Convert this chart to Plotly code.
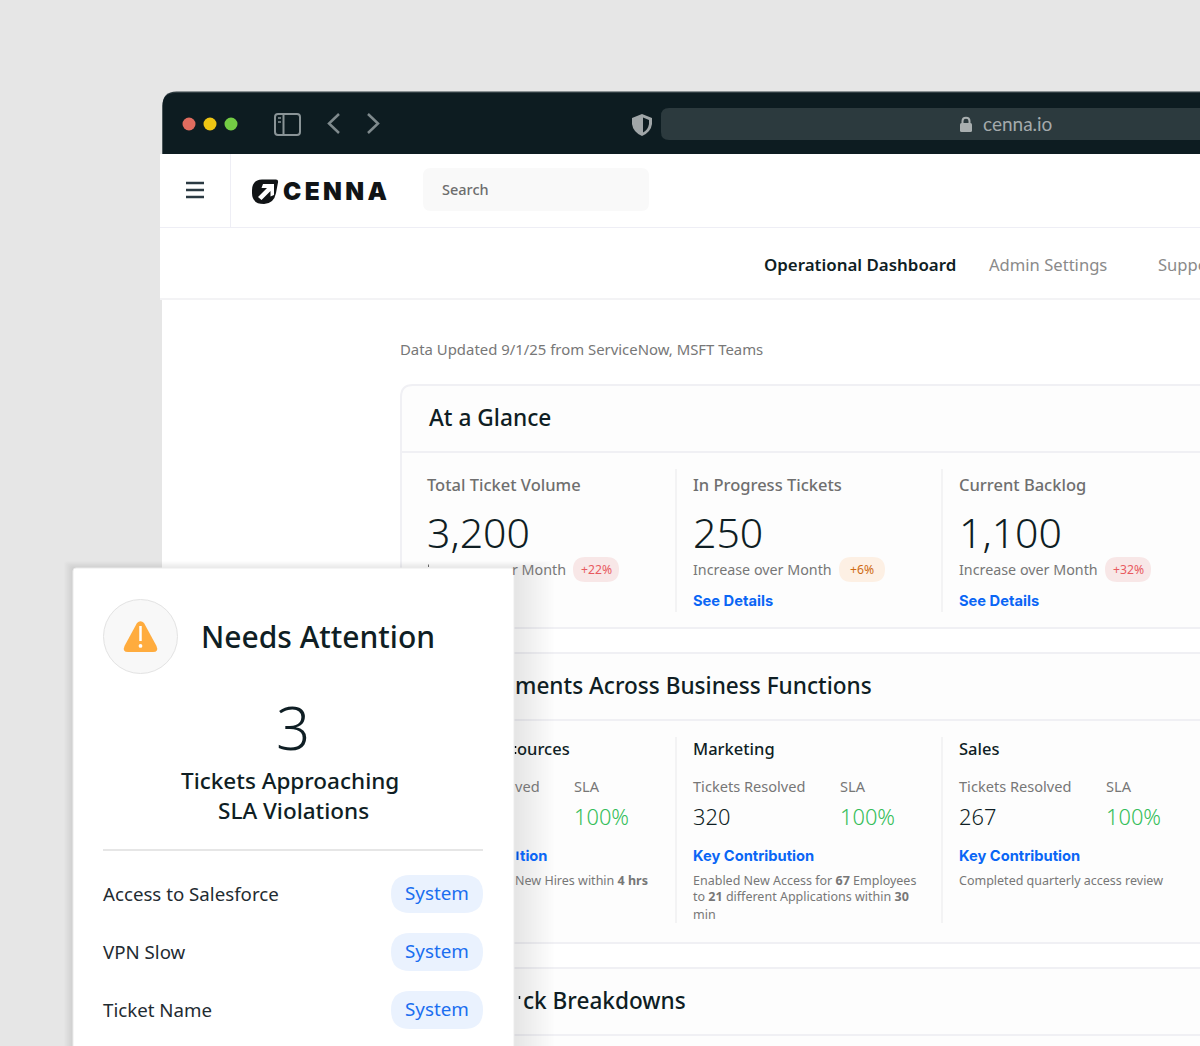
import plotly.graph_objects as go

# text of the dashboard
glance_titles = ["Total Ticket Volume", "In Progress Tickets", "Current Backlog"]
glance_values = ["3,200", "250", "1,100"]
glance_notes = ["r Month", "Increase over Month", "Increase over Month"]
glance_badges = ["+22%", "+6%", "+32%"]
dept_names = ["ources", "Marketing", "Sales"]
dept_resolved_labels = ["ved", "Tickets Resolved", "Tickets Resolved"]
dept_resolved = ["", "320", "267"]
dept_sla = ["100%", "100%", "100%"]
dept_key_labels = ["tion", "Key Contribution", "Key Contribution"]
dept_notes = [
    ["New Hires within <b>4 hrs</b>"],
    ["Enabled New Access for <b>67</b> Employees", "to <b>21</b> different Applications within <b>30</b>", "min"],
    ["Completed quarterly access review"],
]
attention_tickets = ["Access to Salesforce", "VPN Slow", "Ticket Name"]
attention_tags = ["System", "System", "System"]

DARK = "#0d1c21"
INK = "#0f1e24"
GREY = "#777777"
BLUE = "#0a66f5"
LINE = "#f0f0f4"
FONT = "Noto Sans"

shapes = []
annotations = []


def rounded(x0, y0, x1, y1, r):
    return (
        f"M{x0 + r},{y0} L{x1 - r},{y0} Q{x1},{y0} {x1},{y0 + r} L{x1},{y1 - r} Q{x1},{y1} {x1 - r},{y1} "
        f"L{x0 + r},{y1} Q{x0},{y1} {x0},{y1 - r} L{x0},{y0 + r} Q{x0},{y0} {x0 + r},{y0} Z"
    )


def box(x0, y0, x1, y1, fill, r=0, line=None, width=0, opacity=None):
    s = dict(type="path", path=rounded(x0, y0, x1, y1, r), fillcolor=fill, line=dict(width=width, color=line or fill))
    if opacity is not None:
        s["opacity"] = opacity
    shapes.append(s)


def rule(x0, y0, x1, y1, color, width=2):
    shapes.append(dict(type="line", x0=x0, y0=y0, x1=x1, y1=y1, line=dict(color=color, width=width)))


def draw(path, fill="rgba(0,0,0,0)", color=None, width=0):
    shapes.append(dict(type="path", path=path, fillcolor=fill, line=dict(color=color or fill, width=width)))


def text(x, y, s, size, color=INK, weight=400, anchor="left", family=FONT):
    # glyph boxes sit low against the screenshot
    annotations.append(dict(
        x=x, y=y - 2, text=s, showarrow=False, xanchor=anchor, yanchor="middle", align=anchor,
        borderpad=0, borderwidth=0,
        font=dict(size=size, color=color, weight=weight, family=family),
    ))


# shadow of the browser window on the backdrop
for d in range(1, 21):
    box(162 - d * 1.5, 91 - d * 0.5, 1260, 1100, "#000000", r=14, opacity=0.0018)

# browser window
box(162.5, 91.5, 1260, 200, "#2f3c41", r=14)
box(162.5, 93, 1260, 200, DARK, r=13)
box(162, 154, 1260, 1100, "#ffffff")
for x, c in zip([189, 210, 231], ["#e06c5f", "#eec513", "#73cc44"]):
    shapes.append(dict(type="circle", x0=x - 6.5, x1=x + 6.5, y0=117.5, y1=130.5, fillcolor=c, line=dict(width=0)))
box(275, 114, 300, 135, "rgba(0,0,0,0)", r=3, line="#8a9497", width=2)
rule(283.5, 114, 283.5, 135, "#8a9497", 2)
rule(278, 118, 281, 118, "#8a9497", 1.5)
rule(278, 122, 281, 122, "#8a9497", 1.5)
draw("M339,114 L329,123.5 L339,133", color="#7f8a8d", width=2.5)
draw("M368,114 L378,123.5 L368,133", color="#7f8a8d", width=2.5)
draw("M632,118 L642,114 L652,118 L652,124 Q651,132 642,136 Q633,132 632,124 Z", fill="#a0a6a8")
draw("M643,117.5 L649,120 L649,124 Q648,130 643,132.5 Z", fill=DARK)
box(661, 108, 1260, 140, "#2c3a3e", r=8)
box(960, 123, 972, 132, "#a9afb0", r=1.5)
draw("M962.5,123 L962.5,121 C962.5,116.5 969.5,116.5 969.5,121 L969.5,123", color="#a9afb0", width=2)
text(983, 125.5, "cenna.io", 19, "#a4aaac", family="Lato")

# app header and tabs
box(160, 154, 1260, 299, "#ffffff")
rule(160, 227.5, 1200, 227.5, "#eeeef5", 1)
rule(230.5, 154, 230.5, 227, "#eeeef5", 1)
rule(160, 299, 1200, 299, "#f3f3f5", 2)
for y in [183, 190, 197]:
    rule(186, y, 204, y, "#2b3a42", 2.5)
draw("M262,179.5 L276,179.5 Q278.5,179.5 278,182.5 L276,193 Q274,203.5 264,204 Q252,204 252,193 L252,190 Q252,180 262,179.5 Z", fill="#111416")
draw("M258,197 L267,188 L261.5,188 L263,184 L274,184 L274,195 L270.5,196.5 L270.5,191 L261.5,200 Z", fill="#ffffff")
text(283, 193, "C\u200a\u200aE\u200a\u200aN\u200a\u200aN\u200a\u200aA", 24.5, "#111416", 900, family="Inter")
box(423, 168, 649, 211, "#f9f9f9", r=8)
text(442, 191, "Search", 14.5, "#6d6d6d", 500)
text(764, 266, "Operational Dashboard", 16.9, INK, 600)
text(989, 266, "Admin Settings", 16.6, "#8a8a8a")
text(1158, 266, "Support", 16.6, "#8a8a8a")
text(399.5, 351, "Data Updated 9/1/25 from ServiceNow, MSFT Teams", 14.9, GREY)

# section cards
for top, bottom, mid in [(385, 628, 452), (653, 943, 720), (968, 1100, 1035)]:
    box(401, top, 1260, bottom, "#fdfdfd", r=12, line=LINE, width=2)
    rule(402, mid, 1200, mid, LINE, 2)
text(429, 419, "At a Glance", 22.7, INK, 500)
text(515, 687, "ments Across Business Functions", 22.6, INK, 500)
text(522.5, 1002, "ck Breakdowns", 22.6, INK, 500)
rule(519.5, 996, 519.5, 999, INK, 1.5)

col_x = [427, 693, 959]
for x in [676, 942]:
    rule(x, 469, x, 612, "#efeff1", 1.5)
    rule(x, 737, x, 923, "#efeff1", 1.5)

for i, x in enumerate(col_x):
    text(x, 486, glance_titles[i], 16.5, "#6f6f6f", 500)
    text(x, 534, glance_values[i], 41, INK, 300)
    bad = i != 1
    box(x + 146, 557, x + 192, 582, "#f8e7e7" if bad else "#fdf0e4", r=12.5)
    text(x + 169, 571, glance_badges[i], 12.2, "#e85a5f" if bad else "#cf6a12", anchor="center")
    if i == 0:
        text(566, 571, glance_notes[i], 14.3, GREY, anchor="right")
    else:
        text(x, 571, glance_notes[i], 14.3, GREY)
        text(x, 603, "See Details", 14.7, BLUE, 650, family="Inter")
rule(428.5, 564.5, 428.5, 567, GREY, 1)

dept_x = [515, 693, 959]
sla_x = [574, 840, 1106]
for i, x in enumerate(dept_x):
    text(x + 2 if i == 0 else x, 750, dept_names[i], 16.5, INK, 500)
    text(x, 788, dept_resolved_labels[i], 14.6, GREY)
    text(sla_x[i], 788, "SLA", 14.6, GREY)
    if dept_resolved[i]:
        text(x, 818, dept_resolved[i], 21.8, INK, 300)
    text(sla_x[i], 818, dept_sla[i], 21.8, "#35bd5a", 300)
    text(x + 4.5 if i == 0 else x, 858, dept_key_labels[i], 14.7, BLUE, 650, family="Inter")
    for line, y in zip(dept_notes[i], [882, 898, 916]):
        text(x, y, line, 12.5, GREY)
rule(517.5, 851.5, 517.5, 860, BLUE, 2)
rule(515.5, 746, 515.5, 748, INK, 1.5)
rule(515.5, 752, 515.5, 754, INK, 1.5)

# soft shadow behind the floating card
for d in range(1, 25):
    box(73 - d * 0.4, 568 - d * 0.3, 514 + d * 1.7, 1100, "#000000", r=3, opacity=0.0036)

# needs attention card
box(73, 568, 514, 1100, "#ffffff", r=3, line="#ececec", width=1)
shapes.append(dict(type="circle", x0=103.5, x1=177.5, y0=599.5, y1=673.5, fillcolor="#f8f8f8", line=dict(color="#e3e3e3", width=1)))
draw("M137,623 Q140.5,619.5 144,623 L156.5,646 Q159,652 153,652 L128,652 Q122,652 124.5,646 Z", fill="#ffac3e")
rule(140.5, 626, 140.5, 641, "#ffffff", 2.5)
shapes.append(dict(type="circle", x0=138.6, x1=142.4, y0=644, y1=647.8, fillcolor="#ffffff", line=dict(width=0)))
text(200.5, 638, "Needs Attention", 30, INK, 500)
text(293, 729, "3", 60, INK, 300, anchor="center")
text(290, 782, "Tickets Approaching", 22.5, INK, 500, anchor="center")
text(293, 812, "SLA Violations", 22.5, INK, 500, anchor="center")
rule(103, 850, 483, 850, "#e6e6e6", 2)
for ticket, tag, y in zip(attention_tickets, attention_tags, [894, 952, 1010]):
    text(103, y + 1, ticket, 18.7, "#1f2c32")
    box(391, y - 19, 483, y + 19, "#eaf2fe", r=19)
    text(437, y + 1, tag, 18.8, "#1a6ef0", anchor="center")

fig = go.Figure()
fig.update_layout(
    width=1200,
    height=1046,
    margin=dict(l=0, r=0, t=0, b=0),
    paper_bgcolor="#e6e6e6",
    plot_bgcolor="#e6e6e6",
    showlegend=False,
    xaxis=dict(range=[0, 1200], visible=False, fixedrange=True),
    yaxis=dict(range=[1046, 0], visible=False, fixedrange=True),
    shapes=shapes,
    annotations=annotations,
)
fig.write_html("out.html", config=dict(displayModeBar=False), post_script="document.body.style.margin='0';")
